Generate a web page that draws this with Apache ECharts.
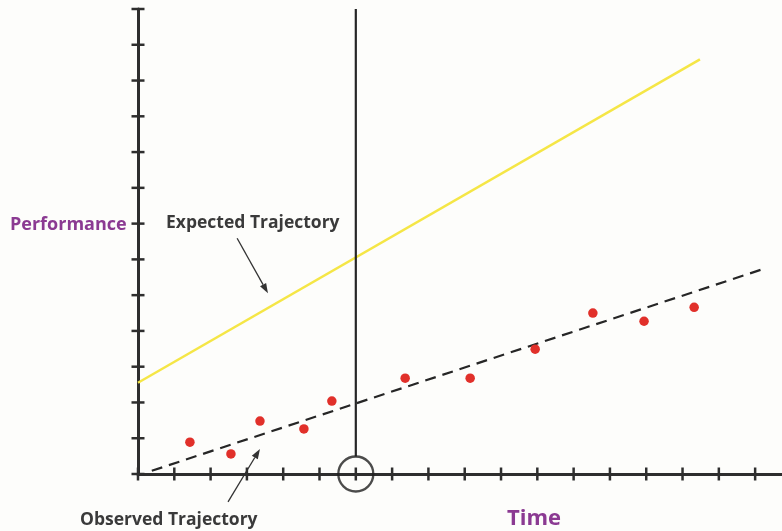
<!DOCTYPE html>
<html>
<head>
<meta charset="utf-8">
<script src="https://cdn.jsdelivr.net/npm/echarts@6/dist/echarts.min.js"></script>
<style>
  html, body { margin: 0; background: #fdfdfb; }
  #main { width: 782px; height: 531px; }
</style>
</head>
<body>
<div id="main"></div>
<script>
// tick positions (no labels shown on this chart)
const xTicks = [0, 1, 2, 3, 4, 5, 6, 7, 8, 9, 10, 11, 12, 13, 14, 15, 16, 17];
const yTicks = [0, 1, 2, 3, 4, 5, 6, 7, 8, 9, 10, 11, 12, 13];

// observed performance (red dots)
const observedPoints = [
  [1.43, 0.89], [2.56, 0.56], [3.36, 1.48], [4.57, 1.26], [5.34, 2.04],
  [7.36, 2.68], [9.15, 2.68], [10.94, 3.49], [12.53, 4.5], [13.94, 4.27], [15.32, 4.66]
];
// trajectories
const expectedLine = [[0, 2.55], [15.48, 11.59]];
const observedTrend = [[0.38, 0.09], [17.31, 5.76]];
// current time marker
const markerTime = 6;
// annotation arrows [from, to]
const expectedArrow = [[2.73, 6.59], [3.58, 5.05]];
const observedArrow = [[2.48, -0.78], [3.36, 0.7]];

const axisColor = "#2e2e2e";
const purple = "#8b3a92";
const font = "'Open Sans', sans-serif";

const chart = echarts.init(document.getElementById("main"));

function valueAxis(max) {
  return {
    type: "value",
    min: 0,
    max: max,
    splitLine: { show: false },
    axisLabel: { show: false },
    axisTick: { show: false },
    axisLine: { show: true, onZero: false, lineStyle: { color: axisColor, width: 3 } },
  };
}

// ticks cross the axis line on both sides, so they are drawn as small bars
function tickSeries(data, size) {
  return {
    type: "scatter",
    data: data,
    symbol: "rect",
    symbolSize: size,
    clip: false,
    silent: true,
    itemStyle: { color: axisColor, opacity: 1 },
    z: 1,
  };
}

let option = {
  backgroundColor: "#fdfdfb",
  animation: false,
  grid: { left: 138, right: 0, top: 9, bottom: 57 },
  xAxis: valueAxis(17.74),
  yAxis: valueAxis(13),
  series: [
    tickSeries(xTicks.map((v) => [v, 0]), [2.5, 13]),
    tickSeries(yTicks.map((v) => [0, v]), [13, 2.5]),
    {
      name: "Expected Trajectory",
      type: "line",
      data: expectedLine,
      symbol: "none",
      lineStyle: { color: "#f5e646", width: 2.5 },
      z: 3,
    },
    {
      name: "Observed Trajectory",
      type: "line",
      data: observedTrend,
      symbol: "none",
      lineStyle: { color: "#262626", width: 2.2, type: [11, 7] },
      z: 3,
    },
    {
      name: "Observed",
      type: "scatter",
      data: observedPoints,
      symbolSize: 9.5,
      itemStyle: { color: "#e1302a", opacity: 1 },
      z: 4,
    },
    {
      name: "Now",
      type: "line",
      data: [[markerTime, 13], [markerTime, 0.49]],
      symbol: "none",
      lineStyle: { color: "#262626", width: 2.2 },
      z: 3,
    },
    {
      name: "NowCircle",
      type: "scatter",
      data: [[markerTime, 0]],
      symbolSize: 35,
      clip: false,
      itemStyle: { color: "rgba(0,0,0,0)", borderColor: "#1f1f1f", borderWidth: 2.3 },
      z: 5,
    },
  ],
};
chart.setOption(option);

function arrow(pair) {
  const a = chart.convertToPixel({ gridIndex: 0 }, pair[0]);
  const b = chart.convertToPixel({ gridIndex: 0 }, pair[1]);
  const ang = Math.atan2(b[1] - a[1], b[0] - a[0]);
  const len = 10, half = 3.5;
  const bx = b[0] - len * Math.cos(ang), by = b[1] - len * Math.sin(ang);
  const nx = -Math.sin(ang) * half, ny = Math.cos(ang) * half;
  return [
    {
      type: "line",
      shape: { x1: a[0], y1: a[1], x2: bx, y2: by },
      style: { stroke: "#333", lineWidth: 1.3 },
    },
    {
      type: "polygon",
      shape: { points: [[b[0], b[1]], [bx + nx, by + ny], [bx - nx, by - ny]] },
      style: { fill: "#333" },
    },
  ];
}

function label(text, x, y, size, color) {
  return {
    type: "text",
    x: x,
    y: y,
    style: {
      text: text,
      font: "bold " + size + "px " + font,
      fill: color,
      verticalAlign: "middle",
    },
  };
}

chart.setOption({
  graphic: [
    ...arrow(expectedArrow),
    ...arrow(observedArrow),
    label("Performance", 10, 225, 18, purple),
    label("Expected Trajectory", 166, 223, 17.5, "#3a3a3a"),
    label("Observed Trajectory", 80, 520, 17.5, "#3a3a3a"),
    label("Time", 507, 519, 22, purple),
  ],
});
</script>
</body>
</html>
